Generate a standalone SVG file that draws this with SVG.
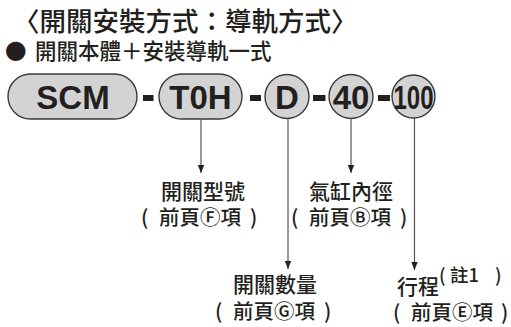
<svg xmlns="http://www.w3.org/2000/svg" width="511" height="327" viewBox="0 0 511 327">
<defs>
<style>
.cjk{font-family:"Noto Sans CJK TC","Noto Sans CJK SC",sans-serif;fill:#231f20;font-weight:500}
.title{font-size:26.5px}
.sub{font-size:21.5px}
.lab{font-size:21px}
.ref{font-size:20.5px}
.note{font-size:18.5px}
.code{font-family:"Liberation Sans",Arial,sans-serif;font-weight:bold;font-size:33px;fill:#231f20}
.box{fill:#d3d3d3;stroke:#3a3a3a;stroke-width:1.4}
.dash{fill:#231f20}
.lead{stroke:#555;stroke-width:1.2;fill:none}
.mid{text-anchor:middle}
</style>
<marker id="ah" viewBox="0 0 8 8" refX="8" refY="4" markerWidth="8" markerHeight="8" markerUnits="userSpaceOnUse" orient="auto">
<path d="M0,0.8 L8,4 L0,7.2 Z" fill="#231f20"/>
</marker>
</defs>
<g id="title">
<text class="cjk title" x="13" y="30.5">〈開關安裝方式：導軌方式〉</text>
</g>
<g id="subtitle">
<text class="cjk sub" y="58.5"><tspan x="5">●</tspan><tspan x="35">開關本體＋安裝導軌一式</tspan></text>
</g>
<g id="node-scm">
<rect class="box" x="8" y="74" width="129" height="45" rx="22.5"/>
<text class="code" x="73" y="109" text-anchor="middle">SCM</text>
</g>
<g id="node-t0h">
<rect class="box" x="159" y="74" width="83" height="45" rx="22.5"/>
<text class="code" x="200.5" y="109" text-anchor="middle">T0H</text>
</g>
<g id="node-d">
<circle class="box" cx="287" cy="96.5" r="22"/>
<text class="code" x="287" y="109" text-anchor="middle">D</text>
</g>
<g id="node-40">
<circle class="box" cx="351" cy="96.5" r="22"/>
<text class="code" x="351" y="109" text-anchor="middle">40</text>
</g>
<g id="node-100">
<circle class="box" cx="413.5" cy="96.5" r="21.5"/>
<text class="code" x="413.5" y="109" text-anchor="middle" textLength="40" lengthAdjust="spacingAndGlyphs">100</text>
</g>
<g id="dashes">
<rect class="dash" x="143" y="95" width="10.5" height="6"/>
<rect class="dash" x="250" y="95" width="11" height="6"/>
<rect class="dash" x="313" y="95" width="12.5" height="6"/>
<rect class="dash" x="378" y="95" width="12" height="6"/>
</g>
<g id="connectors">
<line class="lead" x1="201" y1="119" x2="201" y2="173" marker-end="url(#ah)"/>
<line class="lead" x1="288" y1="118.5" x2="288" y2="269" marker-end="url(#ah)"/>
<line class="lead" x1="351" y1="118.5" x2="351" y2="173" marker-end="url(#ah)"/>
<line class="lead" x1="414.5" y1="118" x2="414.5" y2="270" marker-end="url(#ah)"/>
</g>
<g id="label-switch-model">
<text class="cjk lab mid" x="203" y="198.5">開關型號</text>
<text class="cjk ref" y="225"><tspan x="141">(</tspan><tspan x="200" class="mid">前頁Ⓕ項</tspan><tspan x="250">)</tspan></text>
</g>
<g id="label-bore">
<text class="cjk lab mid" x="351" y="198.5">氣缸內徑</text>
<text class="cjk ref" y="225"><tspan x="291">(</tspan><tspan x="350" class="mid">前頁Ⓑ項</tspan><tspan x="400">)</tspan></text>
</g>
<g id="label-switch-qty">
<text class="cjk lab mid" x="275" y="292">開關數量</text>
<text class="cjk ref" y="318.5"><tspan x="215">(</tspan><tspan x="274" class="mid">前頁Ⓖ項</tspan><tspan x="324">)</tspan></text>
</g>
<g id="label-stroke">
<text class="cjk lab" x="397" y="294">行程</text>
<text class="cjk note" y="281.5"><tspan x="439">(</tspan><tspan x="450">註1</tspan><tspan x="495">)</tspan></text>
<text class="cjk ref" y="319.5"><tspan x="393">(</tspan><tspan x="452" class="mid">前頁Ⓔ項</tspan><tspan x="501">)</tspan></text>
</g>
</svg>
